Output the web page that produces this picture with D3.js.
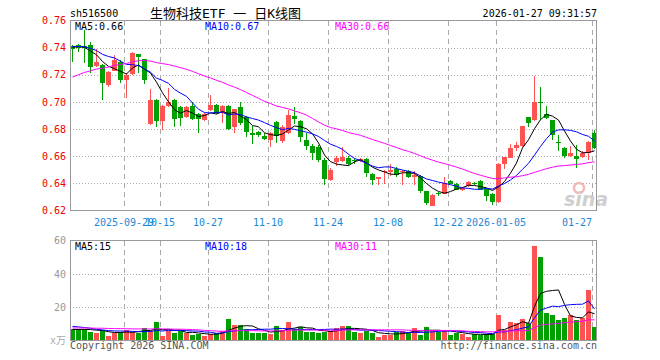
<!DOCTYPE html>
<html>
<head>
<meta charset="utf-8">
<script src="https://cdn.jsdelivr.net/npm/d3@7/dist/d3.min.js"></script>
<style>
body { margin: 0; background: #fff; }
text { font-family: "DejaVu Sans Mono", monospace; font-size: 10px; }
</style>
</head>
<body>
<svg id="chart" width="660" height="360"></svg>
<script>
// trading days shown (2025-09-16 .. 2026-01-27)
var dates = [
	"2025-09-16","2025-09-17","2025-09-18","2025-09-19","2025-09-22","2025-09-23","2025-09-24","2025-09-25","2025-09-26","2025-09-29","2025-09-30",
	"2025-10-09","2025-10-10","2025-10-13","2025-10-14","2025-10-15","2025-10-16","2025-10-17","2025-10-20","2025-10-21","2025-10-22","2025-10-23","2025-10-24","2025-10-27","2025-10-28","2025-10-29","2025-10-30","2025-10-31",
	"2025-11-03","2025-11-04","2025-11-05","2025-11-06","2025-11-07","2025-11-10","2025-11-11","2025-11-12","2025-11-13","2025-11-14","2025-11-17","2025-11-18","2025-11-19","2025-11-20","2025-11-21","2025-11-24","2025-11-25","2025-11-26","2025-11-27","2025-11-28",
	"2025-12-01","2025-12-02","2025-12-03","2025-12-04","2025-12-05","2025-12-08","2025-12-09","2025-12-10","2025-12-11","2025-12-12","2025-12-15","2025-12-16","2025-12-17","2025-12-18","2025-12-19","2025-12-22","2025-12-23","2025-12-24","2025-12-25","2025-12-26","2025-12-29","2025-12-30","2025-12-31",
	"2026-01-05","2026-01-06","2026-01-07","2026-01-08","2026-01-09","2026-01-12","2026-01-13","2026-01-14","2026-01-15","2026-01-16","2026-01-19","2026-01-20","2026-01-21","2026-01-22","2026-01-23","2026-01-26","2026-01-27"
];

var open = [
	.741,.742,.7415,.7417,.7263,.727,.7124,.7234,.7295,.716,
	.721,.735,.7313,.6838,.7014,.6862,.697,.7013,.696,.6887,
	.697,.6911,.6867,.694,.6977,.6921,.697,.6814,.696,.6891,
	.6774,.6779,.675,.672,.6852,.6708,.677,.6896,.686,.672,
	.6677,.6667,.6569,.6427,.6554,.6561,.6586,.6572,.6564,.6579,
	.6471,.6435,.6486,.6488,.6506,.648,.6488,.6451,.6451,.6341,
	.6237,.6327,.6325,.642,.6398,.6349,.6378,.64,.642,.6359,
	.6325,.6261,.6542,.6591,.6664,.6677,.6887,.6867,.70,.6911,
	.6867,.6705,.666,.6598,.6603,.6594,.6627,.677
];
var high = [
	.742,.7429,.7532,.744,.7393,.728,.723,.7344,.731,.721,
	.737,.7355,.732,.7092,.702,.698,.71,.702,.697,.697,
	.70,.692,.692,.705,.6985,.698,.698,.695,.70,.6895,
	.6823,.6785,.677,.678,.686,.683,.694,.696,.6865,.677,
	.669,.668,.6586,.651,.6598,.6667,.6598,.6586,.659,.6585,
	.6475,.645,.65,.6545,.652,.65,.6495,.6488,.646,.6345,
	.632,.634,.6447,.6425,.6405,.6372,.642,.641,.6425,.6362,
	.633,.655,.6595,.6691,.6708,.6825,.689,.719,.7111,.697,
	.687,.6757,.6665,.6677,.6684,.6635,.671,.6794
];
var low = [
	.7295,.737,.7287,.721,.7255,.7014,.711,.723,.714,.7026,
	.72,.7214,.7135,.683,.6818,.6793,.696,.6818,.682,.688,
	.687,.6774,.686,.693,.691,.6843,.6796,.677,.683,.674,
	.6691,.6745,.672,.6671,.6701,.67,.676,.6838,.6708,.6647,
	.6574,.656,.6386,.642,.653,.6555,.653,.6545,.656,.6447,
	.6391,.6391,.6398,.6451,.645,.6391,.644,.6385,.633,.6237,
	.623,.631,.632,.6395,.635,.6345,.6375,.6385,.635,.6268,
	.6244,.6255,.6506,.6585,.664,.667,.6814,.686,.6867,.6875,
	.672,.6642,.659,.6595,.6513,.659,.6574,.6655
];
var close = [
	.7385,.740,.740,.7258,.7295,.7137,.7222,.7312,.716,.7197,
	.7363,.733,.716,.7014,.6862,.6969,.7001,.6872,.688,.696,
	.6877,.6872,.6911,.6977,.6916,.697,.6804,.6946,.6843,.6781,
	.6757,.6757,.6726,.6774,.675,.6813,.6904,.6872,.6745,.6677,
	.6627,.6569,.6427,.6501,.6586,.6594,.6545,.6566,.6579,.6476,
	.6427,.6447,.649,.6501,.6464,.6488,.6447,.6464,.6341,.6256,
	.6317,.6323,.6403,.6398,.6354,.6366,.6408,.6396,.6354,.631,
	.6268,.6542,.6591,.6664,.6684,.6823,.6843,.7001,.6994,.688,
	.6757,.6701,.6598,.6623,.6579,.6627,.6708,.666
];
// volume, x万
var volume = [
	6.8,6.8,7.2,5.4,4.8,6.2,2.8,4.8,5.4,6.2,
	5.4,4.8,7.6,6.0,11.2,2.8,6.0,4.8,6.0,4.4,
	3.4,4.0,2.8,4.0,4.8,6.0,13.0,9.4,9.4,6.8,
	4.8,4.8,4.8,4.0,8.8,6.2,11.2,6.8,8.4,5.4,
	5.4,4.8,5.4,6.0,7.4,8.8,8.8,5.4,4.8,6.0,
	4.8,2.4,3.4,3.4,5.4,6.0,5.4,7.6,3.4,8.4,
	6.0,5.4,6.0,3.4,4.8,4.0,2.4,4.0,3.4,4.0,
	4.0,15.4,6.2,11.2,10.4,13.0,10.8,57,50,16.8,
	15.4,12.4,13.8,15.4,12.4,13.8,30.4,8.4
];
// sessions before the window, read back from where the MA lines start
var priorClose = [
	.686,.690,.692,.690,.694,.694,.696,.698,.697,.700,
	.708,.712,.714,.720,.718,.722,.720,.724,.730,
	.735,.740,.742,.738,.745,.742,.738,.742,.740,.743
];
var priorVolume = [
	7,6.5,8,7.5,6,7,7.5,6.5,7,8,
	6.5,7,7.5,6,7,7.5,7,6.5,7.5,7.1,
	10,11,9.5,11.5,10,6.5,7,6,6.5
];

var tickDates = ["2025-09-29","2025-10-15","2025-10-27","2025-11-10","2025-11-24","2025-12-08","2025-12-22","2026-01-05","2026-01-27"];
var tickLabels = ["2025-09-29","10-15","10-27","11-10","11-24","12-08","12-22","2026-01-05","01-27"];
var priceTicks = [0.76, 0.74, 0.72, 0.70, 0.68, 0.66, 0.64, 0.62];
var volTicks = [60, 40, 20];

var upColor = "#ff5252";
var downColor = "#00a000";
var gridColor = "#aaa";

var svg = d3.select("#chart");
var L = 70, R = 597;

var x = d3.scaleBand().domain(dates).range([70, 598]);
var y = d3.scaleLinear().domain([0.62, 0.76]).range([210.5, 20.5]);
var yv = d3.scaleLinear().domain([0, 60]).range([340.5, 240.5]);

function movingAvg(prior, vals, n) {
	var all = prior.concat(vals);
	var off = prior.length;
	return vals.map(function(v, i) {
		return d3.mean(all.slice(off + i - n + 1, off + i + 1));
	});
}

// header
svg.append("text").attr("x", 70).attr("y", 17).text("sh516500");
svg.append("text").attr("x", 150).attr("y", 18)
	.style("font-family", "'DejaVu Sans Mono','Noto Sans CJK SC'")
	.style("font-size", "13px")
	.text("生物科技ETF 一 日K线图");
svg.append("text").attr("x", 597).attr("y", 17).attr("text-anchor", "end").text("2026-01-27 09:31:57");

// grids
function vgrid(y1, y2) {
	svg.append("g").selectAll("line")
		.data(tickDates)
		.enter()
		.append("line")
		.attr("x1", function(d) { return x(d) + 0.5; })
		.attr("x2", function(d) { return x(d) + 0.5; })
		.attr("y1", y1).attr("y2", y2)
		.style("stroke", gridColor)
		.style("stroke-dasharray", "5,4");
}
vgrid(21, 210);
vgrid(241, 340);

svg.append("g").selectAll("line")
	.data(priceTicks.slice(1, -1))
	.enter()
	.append("line")
	.attr("x1", L).attr("x2", R)
	.attr("y1", function(d) { return Math.round(y(d)) + 0.5; })
	.attr("y2", function(d) { return Math.round(y(d)) + 0.5; })
	.style("stroke", gridColor)
	.style("stroke-dasharray", "1,2");
svg.append("g").selectAll("line")
	.data(volTicks.slice(1))
	.enter()
	.append("line")
	.attr("x1", L).attr("x2", R)
	.attr("y1", function(d) { return Math.round(yv(d)) + 0.5; })
	.attr("y2", function(d) { return Math.round(yv(d)) + 0.5; })
	.style("stroke", gridColor)
	.style("stroke-dasharray", "1,2");

// sina watermark
svg.append("circle").attr("cx", 579).attr("cy", 188).attr("r", 5)
	.style("fill", "none").style("stroke", "#f2b8b8").style("stroke-width", 2.5);
svg.append("text").attr("x", 564).attr("y", 206)
	.style("font-family", "'DejaVu Sans'").style("font-size", "19px")
	.style("font-style", "italic").style("font-weight", "bold")
	.style("fill", "#cfcfcf").text("sina");

// candles
var idx = d3.range(dates.length);
var isUp = function(i) { return close[i] >= open[i]; };
svg.append("g").selectAll("line")
	.data(idx)
	.enter()
	.append("line")
	.attr("x1", function(i) { return x(dates[i]) + 2.5; })
	.attr("x2", function(i) { return x(dates[i]) + 2.5; })
	.attr("y1", function(i) { return Math.round(y(high[i])); })
	.attr("y2", function(i) { return Math.round(y(low[i])); })
	.style("stroke", function(i) { return isUp(i) ? upColor : downColor; });
svg.append("g").selectAll("rect")
	.data(idx)
	.enter()
	.append("rect")
	.attr("x", function(i) { return x(dates[i]); })
	.attr("width", 5)
	.attr("y", function(i) { return Math.round(y(Math.max(open[i], close[i]))); })
	.attr("height", function(i) { return Math.max(1, Math.round(Math.abs(y(open[i]) - y(close[i])))); })
	.attr("shape-rendering", "crispEdges")
	.style("fill", function(i) { return isUp(i) ? upColor : downColor; });

// volume bars
svg.append("g").selectAll("rect")
	.data(idx)
	.enter()
	.append("rect")
	.attr("x", function(i) { return x(dates[i]); })
	.attr("width", 5)
	.attr("y", function(i) { return Math.round(Math.max(241, yv(volume[i]))); })
	.attr("height", function(i) { return 341 - Math.round(Math.max(241, yv(volume[i]))); })
	.attr("shape-rendering", "crispEdges")
	.style("fill", function(i) { return isUp(i) ? upColor : downColor; });

// moving averages
var maColors = ["#000", "#0000ff", "#ff00ff"];
var maDays = [5, 10, 30];
maDays.forEach(function(n, k) {
	var pm = movingAvg(priorClose, close, n);
	var vm = movingAvg(priorVolume, volume, n);
	var pline = d3.line()
		.x(function(d, i) { return x(dates[i]) + 2.5; })
		.y(function(d) { return y(d); });
	var vline = d3.line()
		.x(function(d, i) { return x(dates[i]) + 2.5; })
		.y(function(d) { return Math.max(241, yv(d)); });
	svg.append("path").attr("d", pline(pm))
		.style("fill", "none").style("stroke", maColors[k]).style("stroke-width", 1);
	svg.append("path").attr("d", vline(vm))
		.style("fill", "none").style("stroke", maColors[k]).style("stroke-width", 1);
});

// frames
svg.append("rect").attr("x", 70.5).attr("y", 20.5).attr("width", 526).attr("height", 190)
	.style("fill", "none").style("stroke", "#999");
svg.append("rect").attr("x", 70.5).attr("y", 240.5).attr("width", 526).attr("height", 100)
	.style("fill", "none").style("stroke", "#999");

// axes
var ya = svg.append("g").attr("transform", "translate(70,0)")
	.call(d3.axisLeft(y).tickValues(priceTicks).tickFormat(d3.format(".2f")).tickSize(0).tickPadding(4));
ya.select(".domain").remove();
ya.selectAll("text").style("fill", "#e00").style("font-size", "10px")
	.style("font-family", "'DejaVu Sans Mono',monospace");

var va = svg.append("g").attr("transform", "translate(70,0)")
	.call(d3.axisLeft(yv).tickValues(volTicks).tickSize(0).tickPadding(4));
va.select(".domain").remove();
va.selectAll("text").style("fill", "#999").style("font-size", "10px")
	.style("font-family", "'DejaVu Sans Mono',monospace");
svg.append("text").attr("x", 66).attr("y", 344).attr("text-anchor", "end")
	.style("fill", "#aaa").style("font-family", "'DejaVu Sans Mono','Noto Sans CJK SC'").text("x万");

svg.append("g").selectAll("text")
	.data(tickDates)
	.enter()
	.append("text")
	.attr("x", function(d, i) {
		var w = tickLabels[i].length * 6.02;
		return Math.min(x(d), 592 - w / 2);
	})
	.attr("y", 226)
	.attr("text-anchor", "middle")
	.style("fill", "#1a88d8")
	.text(function(d, i) { return tickLabels[i]; });

// MA legends
var priceLegend = ["MA5:0.66", "MA10:0.67", "MA30:0.66"];
var volLegend = ["MA5:15", "MA10:18", "MA30:11"];
var legendX = [75, 205, 335];
legendX.forEach(function(lx, k) {
	svg.append("text").attr("x", lx).attr("y", 30).style("fill", maColors[k]).text(priceLegend[k]);
	svg.append("text").attr("x", lx).attr("y", 250).style("fill", maColors[k]).text(volLegend[k]);
});

svg.append("text").attr("x", 70).attr("y", 349).style("fill", "#555").text("Copyright 2026 SINA.COM");
svg.append("text").attr("x", 597).attr("y", 349).attr("text-anchor", "end").style("fill", "#555").text("http://finance.sina.com.cn");
</script>
</body>
</html>
